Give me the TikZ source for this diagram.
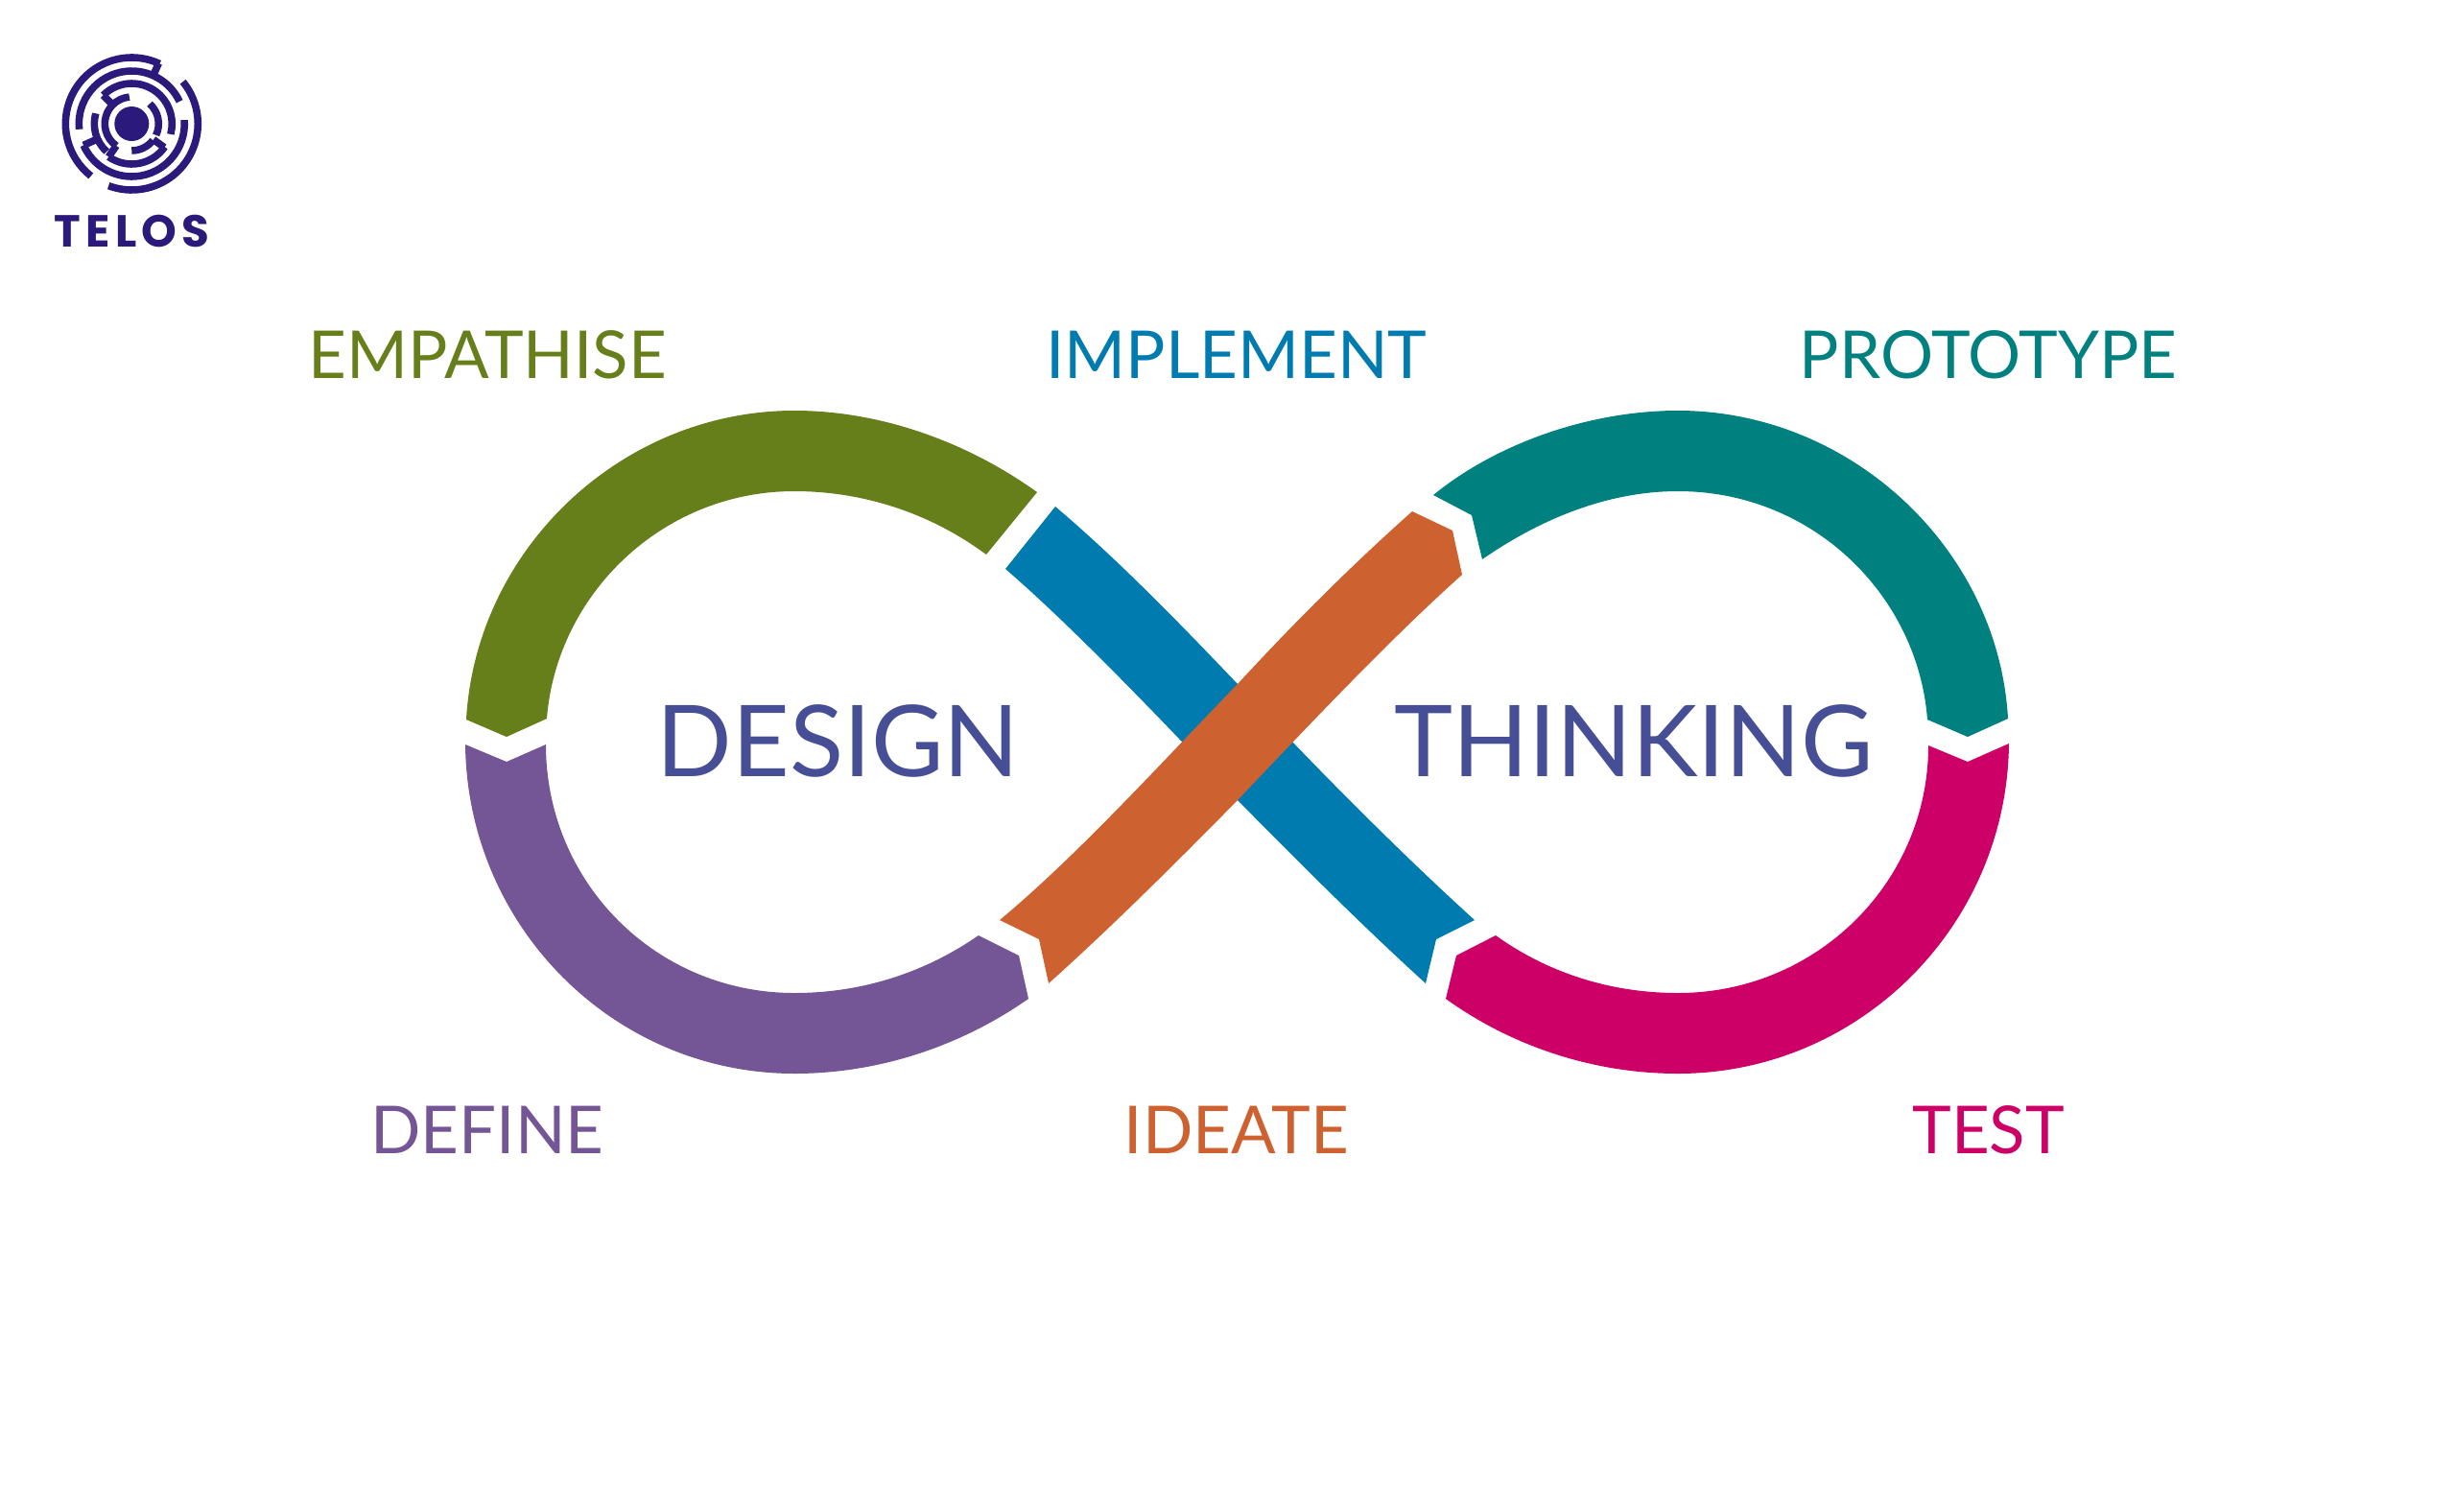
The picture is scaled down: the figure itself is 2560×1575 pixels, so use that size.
\documentclass[tikz,border=0pt]{standalone}
\usepackage{xcolor}
\usepackage{fontspec}
\setmainfont{Lato}
\newfontfamily\telosfont{Poppins}[LetterSpace=11]
\usetikzlibrary{positioning}

\definecolor{empathisecol}{HTML}{667F1B}
\definecolor{definecol}{HTML}{745595}
\definecolor{implementcol}{HTML}{007BB0}
\definecolor{ideatecol}{HTML}{CD6230}
\definecolor{prototypecol}{HTML}{00807F}
\definecolor{testcol}{HTML}{CC0066}
\definecolor{wordcol}{HTML}{464E96}
\definecolor{logocol}{HTML}{2B1A7C}

\begin{document}
\begin{tikzpicture}[x=0.01cm, y=-0.01cm]
\tikzstyle{phase} = [inner sep=0pt, text height=0.5cm, text depth=0pt, font=\fontsize{19.6}{20}\selectfont]
\tikzstyle{word} = [inner sep=0pt, text height=0.74cm, text depth=0pt, text=wordcol, font=\fontsize{29.4}{30}\selectfont]
\tikzstyle{maze} = [draw=logocol, line width=2.15pt]

\useasboundingbox (0,0) rectangle (2560,1575);

% the two loops
\fill [empathisecol] (486,750) -- (528,768) -- (570,749) .. controls (580,620) and (690,512) .. (828,512) .. controls (900,512) and (970,535) .. (1028,578) -- (1081,513) .. controls (1010,462) and (920,428) .. (828,428) .. controls (648,428) and (496,572) .. (486,750) -- cycle;
\fill [prototypecol] (2093,749) -- (2051,768) -- (2009,750) .. controls (1999,620) and (1889,512) .. (1749,512) .. controls (1677,512) and (1607,540) .. (1545,583) -- (1534,537) -- (1494,516) .. controls (1560,462) and (1657,428) .. (1749,428) .. controls (1929,428) and (2083,572) .. (2093,749) -- cycle;
\fill [definecol] (485,776) -- (528,794) -- (569,776) .. controls (569,920) and (684,1035) .. (828,1035) .. controls (900,1035) and (965,1013) .. (1020,975) -- (1062,996) -- (1072,1041) .. controls (1005,1088) and (920,1119) .. (828,1119) .. controls (640,1119) and (487,966) .. (485,776) -- cycle;
\fill [testcol] (2094,775) -- (2051,794) -- (2010,777) .. controls (2010,920) and (1893,1035) .. (1749,1035) .. controls (1677,1035) and (1612,1013) .. (1559,975) -- (1518,996) -- (1507,1041) .. controls (1572,1088) and (1657,1119) .. (1749,1119) .. controls (1937,1119) and (2092,966) .. (2094,775) -- cycle;

% the crossing
\fill [implementcol] (1100,528) .. controls (1165,583) and (1230,650) .. (1290,713) .. controls (1360,788) and (1450,880) .. (1537,959) -- (1497,979) -- (1486,1025) .. controls (1420,965) and (1350,895) .. (1290,834) .. controls (1215,755) and (1120,655) .. (1048,593) -- cycle;
\fill [ideatecol] (1472,533) .. controls (1408,590) and (1348,650) .. (1290,713) .. controls (1215,790) and (1125,890) .. (1042,959) -- (1083,979) -- (1093,1025) .. controls (1160,965) and (1230,895) .. (1290,834) .. controls (1365,755) and (1450,665) .. (1524,599) -- (1514,553) -- cycle;

\node (design) [word] at (873.5,772) {DESIGN};
\node (thinking) [word, right=3.89cm of design] {THINKING};

\node (empathise) [phase, text=empathisecol] at (508,369) {EMPATHISE};
\node (implement) [phase, text=implementcol, right=3.94cm of empathise] {IMPLEMENT};
\node (prototype) [phase, text=prototypecol, right=3.87cm of implement] {PROTOTYPE};
\node (define) [phase, text=definecol, below=7.57cm of empathise] {DEFINE};
\node (ideate) [phase, text=ideatecol, below=7.57cm of implement] {IDEATE};
\node (test) [phase, text=testcol, below=7.57cm of prototype] {TEST};

% logo
\begin{scope}[shift={(137.3,129)}, y=0.01cm]
\fill [logocol] (0,0) circle (18);
\foreach \rad/\from/\to in {69/65/232, 69/39.4/-110.5, 55/186/25, 55/4/-156, 42/135/-15, 42/235/325, 39/164/228, 28/135/235, 28/95/135, 28/48/-25, 28/-38/-90}
  \draw [maze] (\from:\rad) arc [start angle=\from, end angle=\to, radius=\rad];
\foreach \rada/\radb/\ang in {69/55/66, 55/38/204, 42/28/135, 42/28/235, 42/28/-36}
  \draw [maze] (\ang:\rada) -- (\ang:\radb);
\end{scope}
\node (telos) [inner sep=0pt, text=logocol, font=\telosfont\bfseries\fontsize{13.3}{14}\selectfont] at (137.5,241) {TELOS};

\end{tikzpicture}
\end{document}
